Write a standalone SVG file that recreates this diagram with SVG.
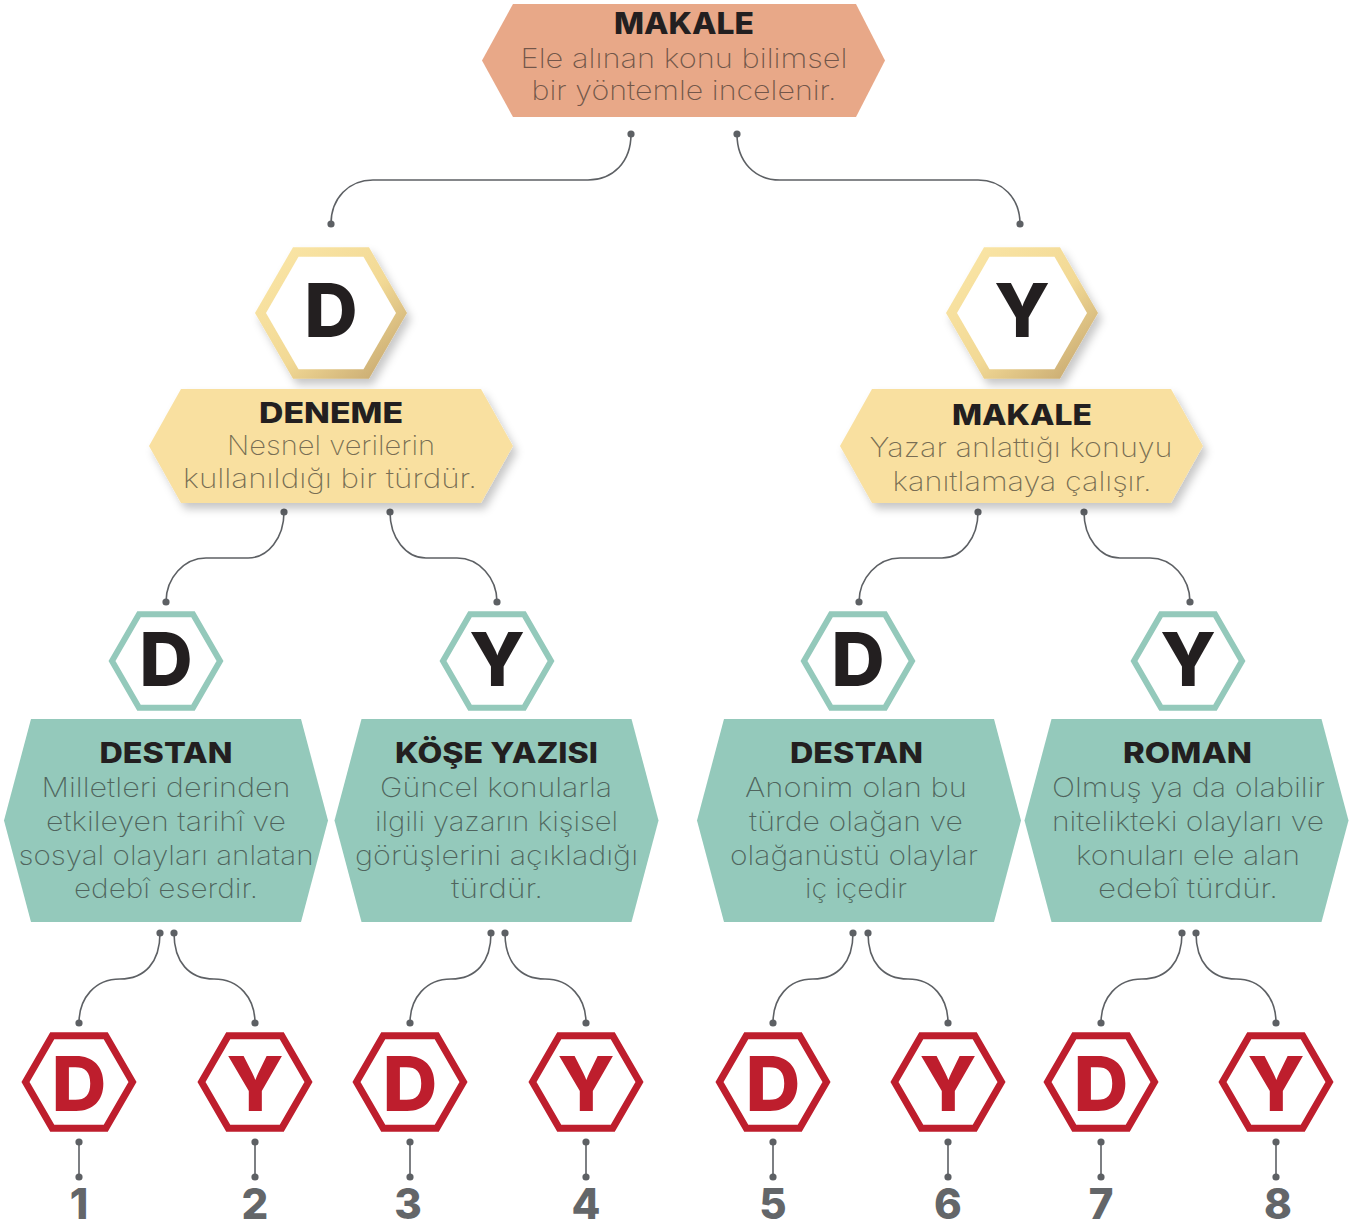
<svg xmlns="http://www.w3.org/2000/svg" xmlns:xlink="http://www.w3.org/1999/xlink" width="1363" height="1229" viewBox="0 0 1363 1229">
<style>
.t{font-family:Inter,"Liberation Sans",sans-serif;font-weight:800;fill:#231F20;text-anchor:middle}
.b{font-family:Inter,"Liberation Sans",sans-serif;font-weight:200;fill:#231F20;fill-opacity:.6;text-anchor:middle}
.big{font-family:Inter,"Liberation Sans",sans-serif;font-weight:800;fill:#231F20;text-anchor:middle;font-size:74px}
.red{font-family:Inter,"Liberation Sans",sans-serif;font-weight:800;fill:#BE1E2D;text-anchor:middle;font-size:76px}
.num{font-family:Inter,"Liberation Sans",sans-serif;font-weight:800;fill:#636669;text-anchor:middle;font-size:42px}
.con{fill:none;stroke:#5d6064;stroke-width:1.6}
.dot{fill:#5d6064}
.teal{fill:#94C9BB}
.yel{fill:#F9E0A0}
</style>
<defs>
<linearGradient id="gold" x1="0" y1="0" x2="1" y2="1">
<stop offset="0" stop-color="#FBE7A8"/>
<stop offset="0.55" stop-color="#F2D995"/>
<stop offset="1" stop-color="#BFA06A"/>
</linearGradient>
<filter id="sh" x="-20%" y="-20%" width="140%" height="150%">
<feDropShadow dx="4" dy="6" stdDeviation="4" flood-color="#000" flood-opacity="0.22"/>
</filter>
<polygon id="hexGoldO" points="-76,0 -38,-65.8 38,-65.8 76,0 38,65.8 -38,65.8"/>
<polygon id="hexGoldI" points="-65,0 -32.5,-56.3 32.5,-56.3 65,0 32.5,56.3 -32.5,56.3"/>
<polygon id="hexT" points="-54,0 -27,-46.8 27,-46.8 54,0 27,46.8 -27,46.8" fill="#fff" stroke="#94C9BB" stroke-width="6"/>
<polygon id="hexR" points="-53.5,0 -26.75,-46.3 26.75,-46.3 53.5,0 26.75,46.3 -26.75,46.3" fill="#fff" stroke="#BE1E2D" stroke-width="7"/>
</defs>

<g id="connectors">
<path class="con" d="M631,134 C631,162 613,180 588,180 L373,180 C349,180 331,198 331,224"/>
<path class="con" d="M737,134 C737,162 755,180 780,180 L978,180 C1002,180 1020,198 1020,224"/>
<path class="con" d="M284,512 C284,538 268,558 248,558 L206,558 C184,558 166,578 166,602"/>
<path class="con" d="M390,512 C390,538 406,558 426,558 L457,558 C479,558 497,578 497,602"/>
<path class="con" d="M978,512 C978,538 962,558 942,558 L900,558 C878,558 859,578 859,602"/>
<path class="con" d="M1084,512 C1084,538 1100,558 1120,558 L1150,558 C1172,558 1190,578 1190,602"/>
<path class="con" d="M160,933 C160,962 145,979 120,979 C95,979 79,998 79,1023"/>
<path class="con" d="M174,933 C174,962 189,979 214,979 C239,979 255,998 255,1023"/>
<path class="con" d="M491,933 C491,962 476,979 451,979 C426,979 410,998 410,1023"/>
<path class="con" d="M505,933 C505,962 520,979 545,979 C570,979 586,998 586,1023"/>
<path class="con" d="M853,933 C853,962 838,979 813,979 C788,979 773,998 773,1023"/>
<path class="con" d="M868,933 C868,962 883,979 908,979 C933,979 948,998 948,1023"/>
<path class="con" d="M1182,933 C1182,962 1167,979 1142,979 C1117,979 1101,998 1101,1023"/>
<path class="con" d="M1196,933 C1196,962 1211,979 1236,979 C1261,979 1276,998 1276,1023"/>
<path class="con" d="M79,1142V1177M255,1142V1177M410,1142V1177M586,1142V1177M773,1142V1177M948,1142V1177M1101,1142V1177M1276,1142V1177"/>
<g class="dot">
<circle cx="631" cy="134" r="3.6"/><circle cx="331" cy="224" r="3.6"/><circle cx="737" cy="134" r="3.6"/><circle cx="1020" cy="224" r="3.6"/>
<circle cx="284" cy="512" r="3.6"/><circle cx="166" cy="602" r="3.6"/><circle cx="390" cy="512" r="3.6"/><circle cx="497" cy="602" r="3.6"/>
<circle cx="978" cy="512" r="3.6"/><circle cx="859" cy="602" r="3.6"/><circle cx="1084" cy="512" r="3.6"/><circle cx="1190" cy="602" r="3.6"/>
<circle cx="160" cy="933" r="3.6"/><circle cx="174" cy="933" r="3.6"/><circle cx="79" cy="1023" r="3.6"/><circle cx="255" cy="1023" r="3.6"/>
<circle cx="491" cy="933" r="3.6"/><circle cx="505" cy="933" r="3.6"/><circle cx="410" cy="1023" r="3.6"/><circle cx="586" cy="1023" r="3.6"/>
<circle cx="853" cy="933" r="3.6"/><circle cx="868" cy="933" r="3.6"/><circle cx="773" cy="1023" r="3.6"/><circle cx="948" cy="1023" r="3.6"/>
<circle cx="1182" cy="933" r="3.6"/><circle cx="1196" cy="933" r="3.6"/><circle cx="1101" cy="1023" r="3.6"/><circle cx="1276" cy="1023" r="3.6"/>
<circle cx="79" cy="1142" r="3.6"/><circle cx="79" cy="1177" r="3.6"/><circle cx="255" cy="1142" r="3.6"/><circle cx="255" cy="1177" r="3.6"/>
<circle cx="410" cy="1142" r="3.6"/><circle cx="410" cy="1177" r="3.6"/><circle cx="586" cy="1142" r="3.6"/><circle cx="586" cy="1177" r="3.6"/>
<circle cx="773" cy="1142" r="3.6"/><circle cx="773" cy="1177" r="3.6"/><circle cx="948" cy="1142" r="3.6"/><circle cx="948" cy="1177" r="3.6"/>
<circle cx="1101" cy="1142" r="3.6"/><circle cx="1101" cy="1177" r="3.6"/><circle cx="1276" cy="1142" r="3.6"/><circle cx="1276" cy="1177" r="3.6"/>
</g>
</g>

<g id="root-makale">
<polygon points="513,4 856,4 885,60.5 856,117 513,117 482,60.5" fill="#E8A888"/>
<text class="t" x="684" y="34" font-size="30" textLength="140" lengthAdjust="spacingAndGlyphs">MAKALE</text>
<text class="b" x="684" y="68" font-size="27" textLength="327" lengthAdjust="spacingAndGlyphs">Ele alınan konu bilimsel</text>
<text class="b" x="684" y="100" font-size="27" textLength="305" lengthAdjust="spacingAndGlyphs">bir yöntemle incelenir.</text>
</g>

<g id="hex-D1" transform="translate(331,313)">
<use xlink:href="#hexGoldO" fill="url(#gold)" filter="url(#sh)"/>
<use xlink:href="#hexGoldI" fill="#fff"/>
<text class="big" x="0" y="24">D</text>
</g>
<g id="hex-Y1" transform="translate(1022,313)">
<use xlink:href="#hexGoldO" fill="url(#gold)" filter="url(#sh)"/>
<use xlink:href="#hexGoldI" fill="#fff"/>
<text class="big" x="0" y="24">Y</text>
</g>

<g id="box-deneme">
<polygon class="yel" filter="url(#sh)" points="181,389 481,389 513,446 481,503 181,503 149,446"/>
<text class="t" x="331" y="423" font-size="28" textLength="144" lengthAdjust="spacingAndGlyphs">DENEME</text>
<text class="b" x="331" y="455" font-size="27" textLength="208" lengthAdjust="spacingAndGlyphs">Nesnel verilerin</text>
<text class="b" x="330" y="488" font-size="27" textLength="294" lengthAdjust="spacingAndGlyphs">kullanıldığı bir türdür.</text>
</g>
<g id="box-makale2">
<polygon class="yel" filter="url(#sh)" points="872,389 1171,389 1203,446 1171,503 872,503 840,446"/>
<text class="t" x="1022" y="425" font-size="28" textLength="140" lengthAdjust="spacingAndGlyphs">MAKALE</text>
<text class="b" x="1021" y="457" font-size="27" textLength="303" lengthAdjust="spacingAndGlyphs">Yazar anlattığı konuyu</text>
<text class="b" x="1022" y="491" font-size="27" textLength="259" lengthAdjust="spacingAndGlyphs">kanıtlamaya çalışır.</text>
</g>

<g id="hex-D2" transform="translate(166,661)"><use xlink:href="#hexT"/><text class="big" x="0" y="25" font-size="73">D</text></g>
<g id="hex-Y2" transform="translate(497,661)"><use xlink:href="#hexT"/><text class="big" x="0" y="25" font-size="73">Y</text></g>
<g id="hex-D3" transform="translate(858,661)"><use xlink:href="#hexT"/><text class="big" x="0" y="25" font-size="73">D</text></g>
<g id="hex-Y3" transform="translate(1188,661)"><use xlink:href="#hexT"/><text class="big" x="0" y="25" font-size="73">Y</text></g>

<g id="box-destan1">
<polygon class="teal" points="31,719 301,719 328,820.5 301,922 31,922 4,820.5"/>
<text class="t" x="166" y="763" font-size="28" textLength="133" lengthAdjust="spacingAndGlyphs">DESTAN</text>
<text class="b" x="166" y="797" font-size="27" textLength="249" lengthAdjust="spacingAndGlyphs">Milletleri derinden</text>
<text class="b" x="166" y="831" font-size="27" textLength="240" lengthAdjust="spacingAndGlyphs">etkileyen tarihî ve</text>
<text class="b" x="166" y="865" font-size="27" textLength="295" lengthAdjust="spacingAndGlyphs">sosyal olayları anlatan</text>
<text class="b" x="166" y="898" font-size="27" textLength="184" lengthAdjust="spacingAndGlyphs">edebî eserdir.</text>
</g>
<g id="box-kose">
<polygon class="teal" points="361.5,719 631.5,719 658.5,820.5 631.5,922 361.5,922 334.5,820.5"/>
<text class="t" x="496.5" y="763" font-size="28" textLength="203" lengthAdjust="spacingAndGlyphs">KÖŞE YAZISI</text>
<text class="b" x="496" y="797" font-size="27" textLength="232" lengthAdjust="spacingAndGlyphs">Güncel konularla</text>
<text class="b" x="496.5" y="831" font-size="27" textLength="243" lengthAdjust="spacingAndGlyphs">ilgili yazarın kişisel</text>
<text class="b" x="496.5" y="865" font-size="27" textLength="283" lengthAdjust="spacingAndGlyphs">görüşlerini açıkladığı</text>
<text class="b" x="497" y="898" font-size="27" textLength="92" lengthAdjust="spacingAndGlyphs">türdür.</text>
</g>
<g id="box-destan2">
<polygon class="teal" points="724,719 994,719 1021,820.5 994,922 724,922 697,820.5"/>
<text class="t" x="856.5" y="763" font-size="28" textLength="133" lengthAdjust="spacingAndGlyphs">DESTAN</text>
<text class="b" x="856" y="797" font-size="27" textLength="222" lengthAdjust="spacingAndGlyphs">Anonim olan bu</text>
<text class="b" x="856" y="831" font-size="27" textLength="214" lengthAdjust="spacingAndGlyphs">türde olağan ve</text>
<text class="b" x="854" y="865" font-size="27" textLength="248" lengthAdjust="spacingAndGlyphs">olağanüstü olaylar</text>
<text class="b" x="856" y="898" font-size="27" textLength="102" lengthAdjust="spacingAndGlyphs">iç içedir</text>
</g>
<g id="box-roman">
<polygon class="teal" points="1051.5,719 1321.5,719 1348.5,820.5 1321.5,922 1051.5,922 1024.5,820.5"/>
<text class="t" x="1187.5" y="763" font-size="28" textLength="129" lengthAdjust="spacingAndGlyphs">ROMAN</text>
<text class="b" x="1188.5" y="797" font-size="27" textLength="273" lengthAdjust="spacingAndGlyphs">Olmuş ya da olabilir</text>
<text class="b" x="1188" y="831" font-size="27" textLength="272" lengthAdjust="spacingAndGlyphs">nitelikteki olayları ve</text>
<text class="b" x="1188" y="865" font-size="27" textLength="224" lengthAdjust="spacingAndGlyphs">konuları ele alan</text>
<text class="b" x="1188" y="898" font-size="27" textLength="180" lengthAdjust="spacingAndGlyphs">edebî türdür.</text>
</g>

<g id="leaf-1" transform="translate(79,1082)"><use xlink:href="#hexR"/><text class="red" x="0" y="29">D</text></g>
<g id="leaf-2" transform="translate(255,1082)"><use xlink:href="#hexR"/><text class="red" x="0" y="29">Y</text></g>
<g id="leaf-3" transform="translate(410,1082)"><use xlink:href="#hexR"/><text class="red" x="0" y="29">D</text></g>
<g id="leaf-4" transform="translate(586,1082)"><use xlink:href="#hexR"/><text class="red" x="0" y="29">Y</text></g>
<g id="leaf-5" transform="translate(773,1082)"><use xlink:href="#hexR"/><text class="red" x="0" y="29">D</text></g>
<g id="leaf-6" transform="translate(948,1082)"><use xlink:href="#hexR"/><text class="red" x="0" y="29">Y</text></g>
<g id="leaf-7" transform="translate(1101,1082)"><use xlink:href="#hexR"/><text class="red" x="0" y="29">D</text></g>
<g id="leaf-8" transform="translate(1276,1082)"><use xlink:href="#hexR"/><text class="red" x="0" y="29">Y</text></g>

<g id="numbers">
<text class="num" x="79" y="1219">1</text>
<text class="num" x="255" y="1219">2</text>
<text class="num" x="408" y="1219">3</text>
<text class="num" x="586" y="1219">4</text>
<text class="num" x="773" y="1219">5</text>
<text class="num" x="948" y="1219">6</text>
<text class="num" x="1101" y="1219">7</text>
<text class="num" x="1278" y="1219">8</text>
</g>
</svg>
